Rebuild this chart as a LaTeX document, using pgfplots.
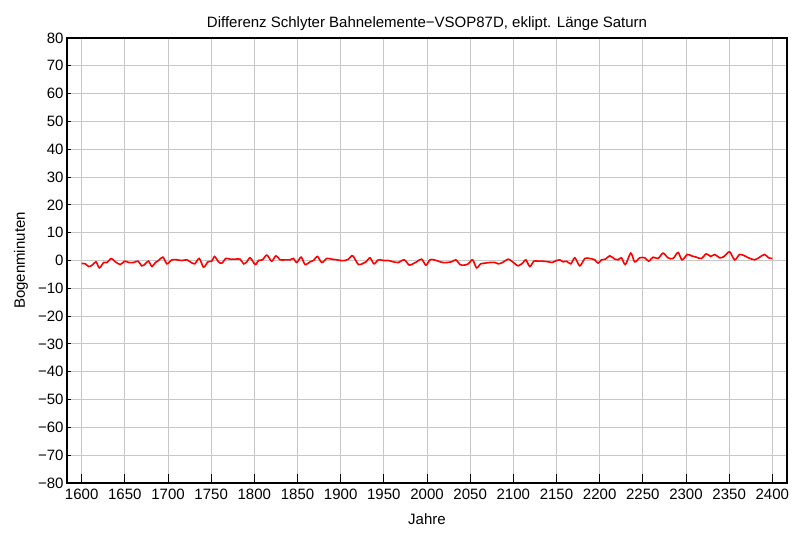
\documentclass[border=0pt]{standalone}
\usepackage{fontspec}
\setmainfont{Liberation Sans}
\usepackage{pgfplots}
\pgfplotsset{compat=1.18}
\begin{document}
\begin{tikzpicture}[x=1pt,y=1pt]
\begin{axis}[
  scale only axis,
  width=720pt, height=445pt,
  xmin=1583, xmax=2417,
  ymin=-80, ymax=80,
  xtick={1600,1650,...,2400},
  ytick={-80,-70,...,80},
  yticklabels={−80,−70,−60,−50,−40,−30,−20,−10,0,10,20,30,40,50,60,70,80},
  /pgf/number format/1000 sep={},
  /pgf/number format/assume math mode=true,
  tick label style={font=\fontsize{15}{17}\selectfont},
  xticklabel style={yshift=-2pt},
  xtick pos=bottom, ytick pos=left,
  tick align=inside,
  x tick style={black, line width=1pt, /pgfplots/major tick length=9pt},
  y tick style={black, line width=1pt, /pgfplots/major tick length=4pt},
  grid=major,
  major grid style={color=black!22, line width=0.9pt},
  axis line style={black, line width=1.3pt},
  title={Differenz Schlyter Bahnelemente−VSOP87D, eklipt. Länge Saturn},
  title style={font=\fontsize{15}{17}\selectfont, at={(axis description cs:0.5,1.018)}, anchor=center},
  xlabel={Jahre},
  xlabel style={font=\fontsize{15}{17}\selectfont, at={(axis description cs:0.5,-0.0809)}, anchor=center},
  ylabel={Bogenminuten},
  ylabel style={font=\fontsize{15}{17}\selectfont, at={(axis description cs:-0.064,0.5)}, anchor=center},
]
\addplot[red, line width=1.6pt, smooth, tension=0.5] coordinates {
(1600,-1.08) (1604.3,-1.2) (1608.1,-2.16) (1612.0,-1.68) (1616.6,-0.48) (1620.5,-2.64)
(1625.5,-0.72) (1629.3,-0.72) (1634.3,0.72) (1639.0,-0.48) (1644.8,-1.44) (1649.8,-0.24)
(1654.4,-0.72) (1660.2,-0.72) (1665.2,-0.24) (1669.8,-1.92) (1673.7,-1.2) (1677.5,-0.24)
(1681.4,-2.16) (1685.3,-0.72) (1689.1,0) (1694.1,1.2) (1698.8,-1.2) (1704.5,0.24)
(1710.3,0.24) (1716.1,0) (1721.9,0.24) (1725.8,-0.48) (1730.8,-1.2) (1736.2,0.72)
(1741.2,-2.4) (1746.2,-0.48) (1750.8,-0.24) (1753.9,1.44) (1758.5,-0.48) (1762.4,-0.96)
(1767.0,0.72) (1772.0,0.48) (1777.8,0.48) (1783.6,0.48) (1787.5,-1.2) (1791.3,-0.48)
(1795.2,0.96) (1801.0,-1.44) (1804.8,0) (1809.4,0.24) (1814.5,1.92) (1820.2,-0.24)
(1824.9,1.68) (1829.9,0.24) (1835.7,0.24) (1841.4,0.24) (1845.3,0.72) (1849.2,-0.72)
(1854.2,1.2) (1858.8,-1.44) (1864.6,-0.48) (1868.5,0) (1873.1,1.44) (1878.1,-0.72)
(1883.9,0.72) (1889.7,0.48) (1895.5,0.24) (1900.1,0) (1905.1,0) (1909.0,0.48)
(1914.0,1.68) (1920.5,-1.44) (1926.3,-0.96) (1929.4,-0.48) (1934.0,0.96) (1938.6,-1.2)
(1943.7,0.24) (1949.4,0) (1955.2,0) (1961.0,-0.48) (1966.8,-0.72) (1973.7,0.24)
(1979.5,-1.68) (1984.9,-0.96) (1988.0,-0.48) (1993.8,0.48) (1998.8,-1.68) (2003.4,0.24)
(2008.1,0.24) (2013.1,-0.24) (2018.1,-0.72) (2023.5,-0.72) (2028.5,-0.48) (2033.5,0.24)
(2038.1,-1.44) (2042.8,-1.68) (2047.8,-1.2) (2052.8,0.24) (2057.4,-2.64) (2062.1,-1.2)
(2067.1,-0.96) (2072.9,-0.72) (2078.6,-0.72) (2082.5,-1.2) (2087.5,-0.72) (2094.1,0.48)
(2099.1,-0.48) (2105.6,-1.92) (2111.4,-0.72) (2114.5,0.24) (2119.1,-2.16) (2123.8,-0.24)
(2128.8,-0.24) (2134.6,-0.24) (2140.4,-0.48) (2145.0,-0.72) (2150.0,0) (2153.9,0.24)
(2157.7,-0.48) (2161.6,-0.24) (2166.6,-1.2) (2171.2,0.96) (2177.0,-1.92) (2182.8,0.72)
(2188.6,0.72) (2194.3,0.24) (2198.2,-0.96) (2202.1,0.24) (2206.7,0.48) (2211.7,1.68)
(2217.5,0.48) (2221.3,0.24) (2225.2,0.96) (2229.8,-1.44) (2236.0,2.64) (2240.6,-0.48)
(2246.4,0.96) (2252.2,0.96) (2256.8,-0.24) (2261.8,1.2) (2267.6,0.72) (2273.4,2.64)
(2279.2,0.96) (2285.0,0.72) (2290.8,2.88) (2295.4,0.24) (2301.6,2.16) (2306.2,1.68)
(2312.0,1.2) (2317.8,0.72) (2323.5,2.4) (2328.6,1.44) (2333.2,2.16) (2339.0,0.96)
(2344.0,1.44) (2350.5,3.12) (2356.3,0.24) (2362.1,2.16) (2367.9,1.68) (2372.5,0.96)
(2379.5,0.24) (2385.3,1.2) (2391.0,2.16) (2395.7,0.96) (2400,0.72)
};
\end{axis}
\pgfresetboundingbox
\path[use as bounding box] (-67pt,-54pt) rectangle (733pt,483pt);
\end{tikzpicture}
\end{document}
